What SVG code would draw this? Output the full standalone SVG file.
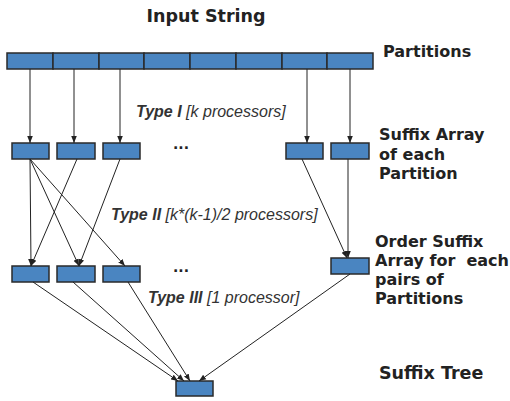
<svg xmlns="http://www.w3.org/2000/svg" width="510" height="401" viewBox="0 0 510 401">
<defs>
<marker id="ah" viewBox="0 0 10 10" refX="10" refY="5" markerWidth="7" markerHeight="7" orient="auto" markerUnits="userSpaceOnUse">
<path d="M0,1 L10,5 L0,9 Z" fill="#222"/>
</marker>
</defs>
<style>
.box{fill:#4a85c1;stroke:#2a2a2a;stroke-width:1.5}
.lbl{font-family:"DejaVu Sans",sans-serif;font-weight:bold;font-size:16px;fill:#222}
.big{font-size:17.5px}
.typ{font-family:"Liberation Sans",Arial,sans-serif;font-style:italic;font-size:16px;fill:#333}
.typ .b{font-weight:bold}
.dots{font-family:"DejaVu Sans",sans-serif;font-weight:bold;font-size:14px;fill:#222}
.edge{stroke:#222;stroke-width:1;fill:none;marker-end:url(#ah)}
</style>
<rect width="510" height="401" fill="#fff"/>
<text class="lbl big" x="206" y="22" text-anchor="middle">Input String</text>
<g id="partitions">
<rect class="box" x="7" y="53" width="46" height="16"/>
<rect class="box" x="53" y="53" width="46" height="16"/>
<rect class="box" x="99" y="53" width="45" height="16"/>
<rect class="box" x="144" y="53" width="46" height="16"/>
<rect class="box" x="190" y="53" width="46" height="16"/>
<rect class="box" x="236" y="53" width="46" height="16"/>
<rect class="box" x="282" y="53" width="45" height="16"/>
<rect class="box" x="327" y="53" width="46" height="16"/>
</g>
<text class="lbl" x="383" y="57">Partitions</text>
<g id="sa1"><rect class="box" x="12" y="143" width="37" height="16"/></g>
<g id="sa2"><rect class="box" x="57" y="143" width="38" height="16"/></g>
<g id="sa3"><rect class="box" x="103" y="143" width="37" height="16"/></g>
<g id="sa4"><rect class="box" x="286" y="143" width="37" height="16"/></g>
<g id="sa5"><rect class="box" x="331" y="143" width="38" height="16"/></g>
<text class="dots" x="181" y="149" text-anchor="middle">...</text>
<text class="lbl" x="379" y="140">Suffix Array</text>
<text class="lbl" x="379" y="160">of each</text>
<text class="lbl" x="379" y="179">Partition</text>
<g id="os1"><rect class="box" x="12" y="266" width="37" height="16"/></g>
<g id="os2"><rect class="box" x="57" y="266" width="38" height="16"/></g>
<g id="os3"><rect class="box" x="103" y="266" width="37" height="16"/></g>
<g id="os4"><rect class="box" x="331" y="258" width="38" height="16"/></g>
<text class="dots" x="181" y="272" text-anchor="middle">...</text>
<text class="lbl" x="375" y="247">Order Suffix</text>
<text class="lbl" x="375" y="266" xml:space="preserve">Array for  each</text>
<text class="lbl" x="375" y="285">pairs of</text>
<text class="lbl" x="375" y="304">Partitions</text>
<g id="tree"><rect class="box" x="176" y="381" width="37" height="15"/></g>
<text class="lbl big" x="379" y="379">Suffix Tree</text>
<text class="typ" x="136" y="117"><tspan class="b">Type I</tspan> [k processors]</text>
<text class="typ" x="111" y="220"><tspan class="b">Type II</tspan> [k*(k-1)/2 processors]</text>
<text class="typ" x="148" y="303"><tspan class="b">Type III</tspan> [1 processor]</text>
<g id="connectors">
<line class="edge" x1="30" y1="69" x2="30" y2="143"/>
<line class="edge" x1="74" y1="69" x2="74" y2="143"/>
<line class="edge" x1="120" y1="69" x2="120" y2="143"/>
<line class="edge" x1="307" y1="69" x2="307" y2="143"/>
<line class="edge" x1="350" y1="69" x2="350" y2="143"/>
<line class="edge" x1="30" y1="159" x2="31" y2="266"/>
<line class="edge" x1="30" y1="159" x2="79" y2="266"/>
<line class="edge" x1="30" y1="159" x2="125" y2="266"/>
<line class="edge" x1="77" y1="159" x2="31" y2="266"/>
<line class="edge" x1="120" y1="159" x2="79" y2="266"/>
<line class="edge" x1="302" y1="159" x2="347" y2="258"/>
<line class="edge" x1="348" y1="159" x2="348" y2="258"/>
<line class="edge" x1="33" y1="282" x2="178" y2="381"/>
<line class="edge" x1="73" y1="282" x2="184" y2="381"/>
<line class="edge" x1="128" y1="282" x2="190" y2="381"/>
<line class="edge" x1="350" y1="274" x2="199" y2="381"/>
</g>
</svg>
